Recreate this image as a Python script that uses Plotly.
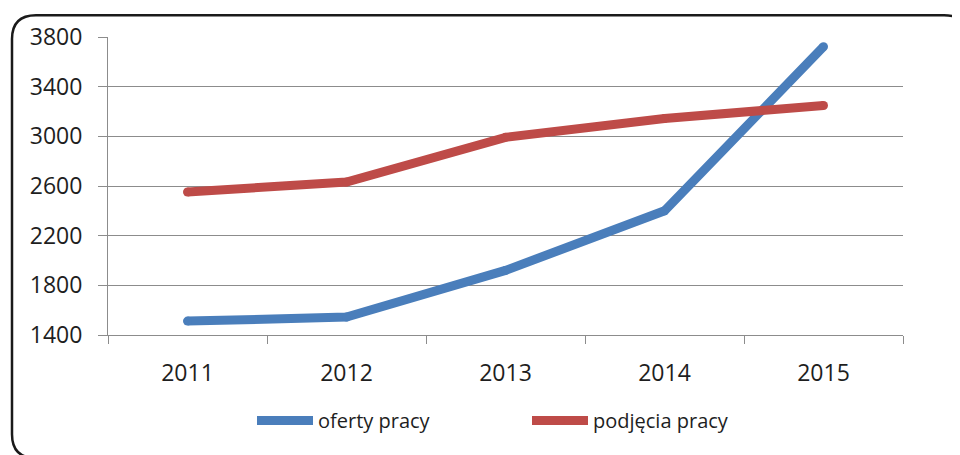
import plotly.graph_objects as go

years = ["2011", "2012", "2013", "2014", "2015"]
oferty = [1512, 1544, 1920, 2400, 3722]
podjecia = [2552, 2632, 2992, 3144, 3248]
y_ticks = [1400, 1800, 2200, 2600, 3000, 3400, 3800]

BLUE = "#4A7EBB"
RED = "#BE4B48"
FONT = "Open Sans"
TXT = "#1e1e1e"
GRID = "#8c8c8c"

OFF = 8  # page body margin
W, H = 960, 455
L, T = 108 - OFF, 35 - OFF
R = W - (903 - OFF)
B = H - (335 - OFF)
pw, ph = W - L - R, H - T - B

def px(x):
    return (x - OFF - L) / pw

def py(y):
    return (H - B - (y - OFF)) / ph

fig = go.Figure()
fig.add_trace(go.Scatter(x=years, y=oferty, name="oferty pracy", mode="lines+markers",
                         line=dict(color=BLUE, width=9),
                         marker=dict(color=BLUE, size=9, line=dict(width=0))))
fig.add_trace(go.Scatter(x=years, y=podjecia, name="podjęcia pracy", mode="lines+markers",
                         line=dict(color=RED, width=9),
                         marker=dict(color=RED, size=9, line=dict(width=0))))

# rounded frame
x0, y0, x1, y1, r = px(12), py(13), px(968), py(459), 24
rx, ry = r / pw, r / ph
path = (f"M {x0+rx},{y0} L {x1-rx},{y0} Q {x1},{y0} {x1},{y0-ry} "
        f"L {x1},{y1+ry} Q {x1},{y1} {x1-rx},{y1} L {x0+rx},{y1} "
        f"Q {x0},{y1} {x0},{y1+ry} L {x0},{y0-ry} Q {x0},{y0} {x0+rx},{y0} Z")
fig.add_shape(type="path", path=path, xref="paper", yref="paper",
              line=dict(color="#1a1a1a", width=2.5), layer="above")

fig.update_layout(
    width=W, height=H,
    margin=dict(l=L, r=R, t=T, b=B, pad=0),
    paper_bgcolor="white", plot_bgcolor="white",
    font=dict(family=FONT, size=23, color=TXT),
    showlegend=True,
    legend=dict(orientation="h", x=px(252), xanchor="left", y=py(421), yanchor="middle",
                itemwidth=56, entrywidth=204, entrywidthmode="pixels",
                font=dict(family=FONT, size=20, color=TXT),
                bgcolor="rgba(0,0,0,0)", tracegroupgap=0),
    xaxis=dict(type="category", showgrid=False, showline=True, linecolor=GRID, linewidth=1,
               ticks="outside", tickson="boundaries", ticklen=8, tickcolor=GRID,
               tickfont=dict(family=FONT, size=23, color=TXT), ticklabelstandoff=17,
               range=[-0.5, 4.5], fixedrange=True),
    yaxis=dict(range=[1400, 3800], tickvals=y_ticks, ticktext=[str(v) for v in y_ticks],
               showgrid=True, gridcolor=GRID, gridwidth=1, zeroline=False,
               showline=True, linecolor=GRID, linewidth=1,
               ticks="outside", ticklen=9, tickcolor=GRID,
               tickfont=dict(family=FONT, size=23, color=TXT), ticklabelstandoff=11,
               fixedrange=True),
)

fig.write_html("out.html")
